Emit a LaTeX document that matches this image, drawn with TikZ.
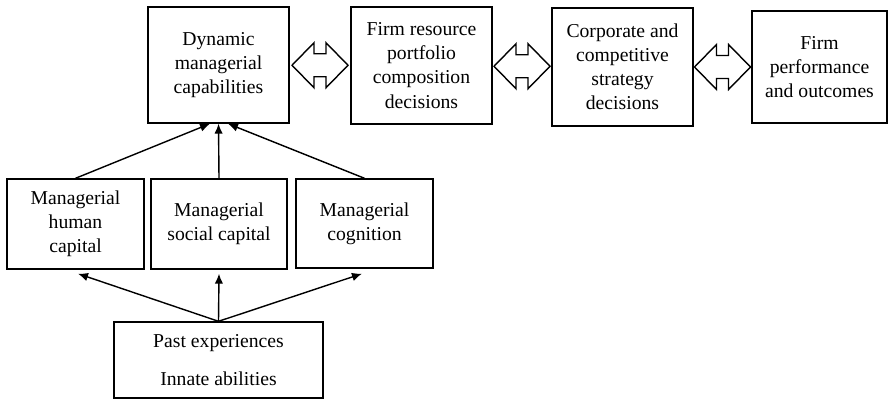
\documentclass[tikz,border=0pt]{standalone}
\usepackage{fontspec}
\setmainfont{Liberation Serif}
\usetikzlibrary{%
  arrows.meta,%
  calc,% wg. midpoints
}

\begin{document}
\begin{tikzpicture}[
  x=0.02cm, y=-0.02cm,
  font=\fontsize{11.2}{13.7}\selectfont,
  >={Latex[length=0.2cm,width=0.17cm]},
  line width=0.8pt,
  box/.style={draw, align=center, inner sep=0pt},
]
\useasboundingbox (0,0) rectangle (888,399);

\node[box, minimum width=2.82cm, minimum height=2.32cm] (dyn) at (218.5,65) {Dynamic\\managerial\\capabilities};
\node[box, minimum width=2.82cm, minimum height=2.34cm] (res) at (421.5,65.5) {Firm resource\\portfolio\\composition\\decisions};
\node[box, minimum width=2.82cm, minimum height=2.36cm] (strat) at (622.5,67) {Corporate and\\competitive\\strategy\\decisions};
\node[box, minimum width=2.70cm, minimum height=2.24cm] (perf) at (819.5,67) {Firm\\performance\\and outcomes};

\node[box, minimum width=2.74cm, minimum height=1.80cm] (hum) at (75.5,224) {Managerial\\human\\capital};
\node[box, minimum width=2.72cm, minimum height=1.80cm] (soc) at (219,224) {Managerial\\social capital};
\node[box, minimum width=2.74cm, minimum height=1.78cm] (cog) at (364.5,223.5) {Managerial\\cognition};

\node[box, minimum width=4.18cm, minimum height=1.52cm] (past) at (218.5,360) {Past experiences\\[0.28cm]Innate abilities};

\foreach \a/\b in {dyn/res,res/strat,strat/perf} {
  \coordinate (mid) at ($(\a.east)!0.5!(\b.west)$);
  \draw (mid) ++(-28,0) -- ++(22,-22.5) -- ++(0,11) -- ++(12,0) -- ++(0,-11)
    -- ++(22,22.5) -- ++(-22,22.5) -- ++(0,-11) -- ++(-12,0) -- ++(0,11) -- cycle;
}

\draw [->] (hum.north) -- ([xshift=-0.17cm]dyn.south);
\draw [->] (soc.north) -- (dyn.south);
\draw [->] (cog.north) -- ([xshift=0.19cm]dyn.south);

\draw [->] (past.north) -- ([xshift=0.05cm,yshift=-0.08cm]hum.south);
\draw [->] (past.north) -- ([yshift=-0.08cm]soc.south);
\draw [->] (past.north) -- ([xshift=-0.05cm,yshift=-0.1cm]cog.south);

\end{tikzpicture}
\end{document}
